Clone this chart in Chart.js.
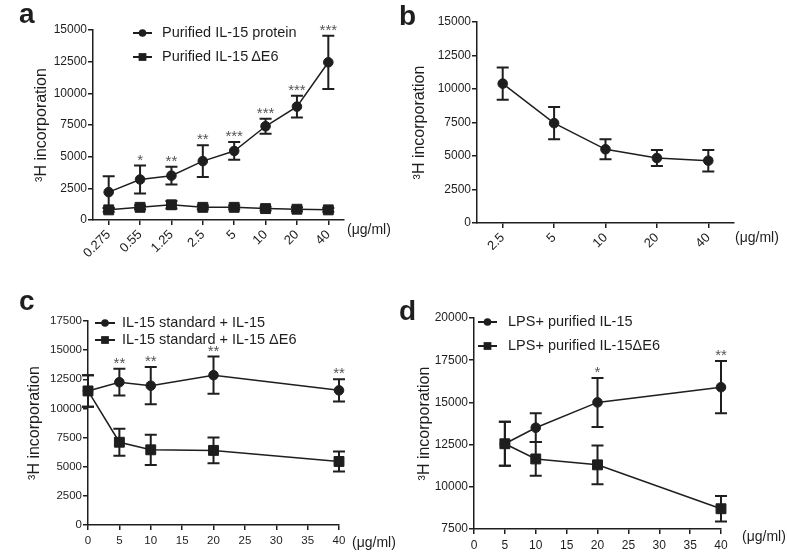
<!DOCTYPE html>
<html>
<head>
<meta charset="utf-8">
<script src="https://cdn.jsdelivr.net/npm/chart.js@4.4.1/dist/chart.umd.min.js"></script>
<style>
  html, body { margin: 0; padding: 0; background: #fff; }
  body { width: 787px; height: 553px; position: relative; overflow: hidden; }
  canvas { position: absolute; }
</style>
</head>
<body>
<canvas id="chartA" width="395" height="270" style="left:0;top:0"></canvas>
<canvas id="chartB" width="392" height="270" style="left:395px;top:0"></canvas>
<canvas id="chartC" width="400" height="278" style="left:0;top:275px"></canvas>
<canvas id="chartD" width="392" height="278" style="left:395px;top:275px"></canvas>
<script>
// ---- data ----
// panel a
const doseLabelsA = ['0.275', '0.55', '1.25', '2.5', '5', '10', '20', '40'];
const proteinA = [2200, 3200, 3500, 4650, 5450, 7400, 8950, 12450];
const proteinErrA = [1250, 1100, 700, 1250, 700, 600, 850, 2100];
const deltaA = [800, 1000, 1200, 1000, 1000, 900, 850, 800];
const deltaErrA = [150, 150, 300, 150, 150, 150, 150, 150];
const starsA = ['', '*', '**', '**', '***', '***', '***', '***'];

// panel b
const doseLabelsB = ['2.5', '5', '10', '20', '40'];
const responseB = [10400, 7450, 5500, 4850, 4650];
const responseErrB = [1200, 1200, 750, 600, 800];

// panel c
const dosesC = [0, 5, 10, 20, 40];
const il15C = [11500, 12250, 11950, 12850, 11550];
const il15ErrC = [1350, 1150, 1600, 1600, 950];
const deltaC = [11500, 7100, 6450, 6400, 5450];
const deltaErrC = [1350, 1150, 1300, 1100, 850];
const starsC = ['', '**', '**', '**', '**'];

// panel d
const dosesD = [5, 10, 20, 40];
const il15D = [12550, 13500, 15000, 15900];
const il15ErrD = [1300, 850, 1450, 1550];
const deltaD = [12550, 11650, 11300, 8700];
const deltaErrD = [1300, 1000, 1150, 750];
const starsD = ['', '', '*', '**'];

const FONT = "'Liberation Sans', Arial, Helvetica, sans-serif";
const INK = '#1e1e1e';
Chart.defaults.font.family = FONT;
Chart.defaults.color = INK;
Chart.defaults.animation = false;

// error bars, asterisks, legend, unit and panel letter
const figurePlugin = {
  id: 'figure',
  beforeDatasetsDraw(chart) {
    const ctx = chart.ctx, ys = chart.scales.y;
    chart.data.datasets.forEach((ds, i) => {
      if (!ds.errors) return;
      const meta = chart.getDatasetMeta(i);
      ctx.save();
      ctx.strokeStyle = INK;
      ctx.lineWidth = 2;
      meta.data.forEach((pt, j) => {
        const e = ds.errors[j];
        if (!e) return;
        const raw = ds.data[j];
        const v = typeof raw === 'object' ? raw.y : raw;
        const top = ys.getPixelForValue(v + e), bot = ys.getPixelForValue(v - e);
        ctx.beginPath();
        ctx.moveTo(pt.x, top); ctx.lineTo(pt.x, bot);
        ctx.moveTo(pt.x - 6, top); ctx.lineTo(pt.x + 6, top);
        ctx.moveTo(pt.x - 6, bot); ctx.lineTo(pt.x + 6, bot);
        ctx.stroke();
      });
      ctx.restore();
    });
  },
  afterDatasetsDraw(chart) {
    const ctx = chart.ctx, ys = chart.scales.y;
    chart.data.datasets.forEach((ds, i) => {
      if (!ds.stars) return;
      const meta = chart.getDatasetMeta(i);
      ctx.save();
      ctx.fillStyle = '#555';
      ctx.font = '15px ' + FONT;
      ctx.textAlign = 'center';
      ctx.textBaseline = 'alphabetic';
      meta.data.forEach((pt, j) => {
        if (!ds.stars[j]) return;
        const raw = ds.data[j];
        const v = typeof raw === 'object' ? raw.y : raw;
        const top = ys.getPixelForValue(v + (ds.errors ? ds.errors[j] : 0));
        ctx.fillText(ds.stars[j], pt.x, top - 1);
      });
      ctx.restore();
    });
  },
  afterDraw(chart, args, o) {
    const ctx = chart.ctx;
    ctx.save();
    ctx.fillStyle = INK;
    if (o.letter) {
      ctx.font = 'bold 28px ' + FONT;
      ctx.textAlign = 'left';
      ctx.textBaseline = 'alphabetic';
      ctx.fillText(o.letter.text, o.letter.x, o.letter.y);
    }
    if (o.unit) {
      ctx.font = '14px ' + FONT;
      ctx.textAlign = 'left';
      ctx.textBaseline = 'middle';
      ctx.fillText('(\u03bcg/ml)', o.unit.x, o.unit.y);
    }
    const L = o.legend;
    if (L) {
      chart.data.datasets.forEach((ds, i) => {
        const y = L.rows[i];
        ctx.strokeStyle = INK;
        ctx.lineWidth = 2;
        ctx.beginPath();
        ctx.moveTo(L.x0, y); ctx.lineTo(L.x1, y);
        ctx.stroke();
        Chart.helpers.drawPoint(ctx, {
          pointStyle: ds.pointStyle, radius: ds.pointStyle === 'rect' ? 5.5 : 3.8,
          rotation: 0, borderWidth: 0
        }, (L.x0 + L.x1) / 2, y);
        ctx.font = '14.5px ' + FONT;
        ctx.textAlign = 'left';
        ctx.textBaseline = 'middle';
        ctx.fillText(ds.label, L.tx, y);
      });
    }
    ctx.restore();
  }
};
Chart.register(figurePlugin);

function yAxis(min, max, width, titlePad, size) {
  return {
    type: 'linear', min: min, max: max,
    afterFit: s => { s.width = width; },
    ticks: { stepSize: 2500, padding: 1, font: { size: size }, color: INK, callback: v => String(v) },
    grid: { display: true, drawOnChartArea: false, drawTicks: true, tickLength: 5, color: INK, lineWidth: 1.5 },
    border: { display: true, color: INK, width: 1.5 },
    title: { display: true, text: '\u00b3H incorporation', font: { size: 16 }, color: INK, padding: { top: titlePad, bottom: 0 } }
  };
}

function catAxis(height) {
  return {
    type: 'category', offset: true,
    afterFit: s => { s.height = height; },
    ticks: { autoSkip: false, minRotation: 45, maxRotation: 45, padding: 2, font: { size: 13 }, color: INK },
    grid: { display: true, drawOnChartArea: false, drawTicks: true, tickLength: 5, color: INK, lineWidth: 1.5, offset: false },
    border: { display: true, color: INK, width: 1.5 }
  };
}

function doseAxis(height, size) {
  return {
    type: 'linear', min: 0, max: 40,
    afterFit: s => { s.height = height; },
    ticks: { stepSize: 5, padding: 4, font: { size: size }, color: INK },
    grid: { display: true, drawOnChartArea: false, drawTicks: true, tickLength: 5, color: INK, lineWidth: 1.5 },
    border: { display: true, color: INK, width: 1.5 }
  };
}

function series(label, data, errors, style, stars) {
  return {
    label: label, data: data, errors: errors, stars: stars,
    borderColor: INK, borderWidth: 1.5, tension: 0, clip: false,
    pointStyle: style, pointRadius: style === 'rect' ? 7 : 4.8,
    pointBackgroundColor: INK, pointBorderColor: INK, pointBorderWidth: 1
  };
}

function pts(xs, ys) {
  return xs.map((x, i) => ({ x: x, y: ys[i] }));
}

function baseOptions(pad, scales, fig) {
  return {
    responsive: false,
    layout: { padding: pad },
    scales: scales,
    plugins: { legend: { display: false }, tooltip: { enabled: false }, figure: fig }
  };
}

new Chart(document.getElementById('chartA'), {
  type: 'line',
  data: {
    labels: doseLabelsA,
    datasets: [
      series('Purified IL-15 protein', proteinA, proteinErrA, 'circle', starsA),
      series('Purified IL-15\u2009\u0394E6', deltaA, deltaErrA, 'rect', null)
    ]
  },
  options: baseOptions({ top: 30, right: 51, left: 0, bottom: 0 },
    { x: catAxis(50), y: yAxis(0, 15000, 93, 32, 12) },
    { letter: { text: 'a', x: 19, y: 23 }, unit: { x: 347, y: 230 },
      legend: { x0: 133, x1: 152, tx: 162, rows: [33, 57] } })
});

new Chart(document.getElementById('chartB'), {
  type: 'line',
  data: {
    labels: doseLabelsB,
    datasets: [series('IL-15', responseB, responseErrB, 'circle', null)]
  },
  options: baseOptions({ top: 22, right: 53, left: 0, bottom: 0 },
    { x: catAxis(47), y: yAxis(0, 15000, 82, 15, 12) },
    { letter: { text: 'b', x: 4, y: 25 }, unit: { x: 340, y: 238 } })
});

new Chart(document.getElementById('chartC'), {
  type: 'line',
  data: {
    datasets: [
      series('IL-15 standard + IL-15', pts(dosesC, il15C), il15ErrC, 'circle', starsC),
      series('IL-15 standard + IL-15 \u0394E6', pts(dosesC, deltaC), deltaErrC, 'rect', null)
    ]
  },
  options: baseOptions({ top: 46, right: 61, left: 0, bottom: 0 },
    { x: doseAxis(28, 11.5), y: yAxis(0, 17500, 88, 25, 11.5) },
    { letter: { text: 'c', x: 19, y: 35 }, unit: { x: 352, y: 268 },
      legend: { x0: 95, x1: 115, tx: 122, rows: [48, 65] } })
});

new Chart(document.getElementById('chartD'), {
  type: 'line',
  data: {
    datasets: [
      series('LPS+ purified IL-15', pts(dosesD, il15D), il15ErrD, 'circle', starsD),
      series('LPS+ purified IL-15\u0394E6', pts(dosesD, deltaD), deltaErrD, 'rect', null)
    ]
  },
  options: baseOptions({ top: 43, right: 66, left: 0, bottom: 0 },
    { x: doseAxis(24, 12), y: yAxis(7500, 20000, 79, 20, 12) },
    { letter: { text: 'd', x: 4, y: 45 }, unit: { x: 347, y: 262 },
      legend: { x0: 83, x1: 102, tx: 113, rows: [47, 71] } })
});
</script>
</body>
</html>
